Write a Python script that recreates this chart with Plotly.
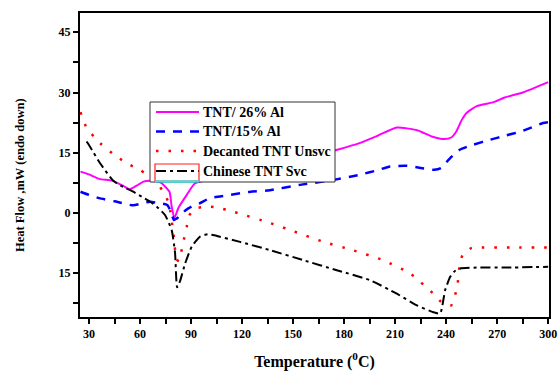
import plotly.graph_objects as go

# ---- data ----
t_26 = [25, 30, 36, 44, 50, 54, 58, 62, 66, 72, 77.3, 78.6, 80.2, 82.5, 87.5, 92.4, 110, 130, 150, 165, 176,
        189, 200, 211, 223, 232, 239, 243, 246, 249, 252, 258, 268, 274, 285, 300]
hf_26 = [10.3, 9.6, 8.5, 8.0, 6.8, 5.9, 6.8, 7.8, 8.0, 7.6, 5.3, 1.6, -1.3, 1.2, 4.5, 7.4, 9.0, 11.0, 13.0, 14.5, 15.75,
         17.4, 19.3, 21.3, 20.6, 19.0, 18.4, 18.8, 20.3, 23.0, 24.9, 26.6, 27.6, 28.7, 30.0, 32.6]

t_15 = [25, 30, 36, 45, 56, 62, 66, 72, 76, 78, 80, 83, 87, 92, 95, 101, 107, 113, 125, 135, 154, 174, 189, 200,
        207, 217, 225, 233, 237, 242, 248, 256, 266, 275, 284, 297, 300]
hf_15 = [5.3, 4.5, 3.7, 2.9, 1.9, 2.5, 2.8, 2.4, 2.0, 0.5, -1.75, -0.9, 0.75, 2.0, 2.4, 3.7, 4.1, 4.5, 5.3, 5.6, 7.0,
         8.25, 9.5, 10.7, 11.6, 11.75, 11.2, 10.75, 11.2, 13.5, 15.75, 17.0, 18.25, 19.3, 20.3, 22.4, 22.6]

t_dec = [25, 28.6, 36.5, 46, 54, 60, 64, 70, 74, 77, 79.6, 81.5, 83, 85, 87.5, 88.5, 92, 99, 105, 115, 136.5, 150,
         168, 185, 203, 219, 232.5, 238, 243, 246.5, 248.2, 250, 255, 260, 280, 300]
hf_dec = [25.1, 21.2, 17.4, 14.1, 12.0, 10.75, 9.5, 7.5, 5.0, 2.4, -5.1, -11.5, -12, -8, -3.4, -0.9, 1.0, 1.6, 1.4,
          0.3, -2.5, -4.5, -7.2, -9.25, -11.75, -15.1, -20.1, -22.5, -23.0, -18.4, -12.2, -10.25, -8.7, -8.6, -8.6, -8.6]

t_chi = [28.6, 30.6, 36.5, 44.3, 50, 56, 62, 66, 70, 74.7, 78.6, 80.6, 81.8, 83.5, 86.5, 90.4, 95.3, 100, 103,
         118.8, 136.5, 156, 175.7, 195.3, 211, 222.8, 232.5, 236.5, 239.4, 242.4, 245, 248.2, 258, 275, 300]
hf_chi = [17.8, 16.5, 12.4, 8.0, 6.5, 5.3, 3.8, 2.8, 1.5, -0.5, -4.25, -10, -18.5, -17, -12.6, -8.4, -5.9, -5.3,
          -5.5, -7.2, -9.25, -11.75, -14.25, -16.75, -20.1, -23, -24.7, -25, -19.25, -15.9, -14.5, -13.8, -13.6,
          -13.6, -13.4]

series_names = ["TNT/ 26% Al", "TNT/15% Al", "Decanted TNT Unsvc", "Chinese TNT Svc"]

x_ticks = [30, 60, 90, 120, 150, 180, 210, 240, 270, 300]
x_ticklabels = ["30", "60", "90", "120", "150", "180", "210", "240", "270", "300"]
y_ticks = [-15, 0, 15, 30, 45]
y_ticklabels = ["15", "0", "15", "30", "45"]

FONT = "Liberation Serif"
W, H = 559, 371
ML, MR, MT, MB = 80, 10, 13, 54
PW, PH = W - ML - MR, H - MT - MB


def px_x(px):
    return (px - ML) / PW


def px_y(py):
    return (H - MB - py) / PH


styles = [
    dict(color="#ff00ff", width=2, dash="solid"),
    dict(color="#0000ff", width=2.5, dash="9px,8px"),
    dict(color="#ff0000", width=2.5, dash="2.5px,10px"),
    dict(color="#000000", width=2, dash="10px,4px,3px,4px"),
]
xs = [t_26, t_15, t_dec, t_chi]
ys = [hf_26, hf_15, hf_dec, hf_chi]

fig = go.Figure()
for name, x, y, st in zip(series_names, xs, ys, styles):
    fig.add_trace(go.Scatter(x=x, y=y, mode="lines", name=name, showlegend=False,
                             line=dict(shape="spline", smoothing=0.5, **st)))

axis_common = dict(showline=True, linecolor="black", linewidth=2, mirror=True, showgrid=False, zeroline=False,
                   ticks="outside", ticklen=5, tickwidth=1.5, tickcolor="black", automargin=False,
                   tickfont=dict(family=FONT, size=12, color="black", weight="bold"))

fig.update_xaxes(range=[24.7, 300.5], tickvals=x_ticks, ticktext=x_ticklabels,
                 minor=dict(ticks="outside", ticklen=5, tickwidth=1.5, tickcolor="black", dtick=15, tick0=15),
                 title=dict(text="<b>Temperature (<sup>0</sup>C)</b>", font=dict(family=FONT, size=16, color="black"),
                            standoff=18),
                 **axis_common)
fig.update_yaxes(range=[-25.9, 49.8], tickvals=y_ticks, ticktext=y_ticklabels,
                 minor=dict(ticks="outside", ticklen=5, tickwidth=1.5, tickcolor="black", dtick=15, tick0=7.5),
                 **axis_common)

# y axis title placed as annotation to match position
annotations = [dict(text="<b>Heat Flow ,mW (endo down)</b>", xref="paper", yref="paper",
                    x=px_x(20), y=px_y(175), textangle=-90, showarrow=False,
                    font=dict(family=FONT, size=12.5, color="black"), xanchor="center", yanchor="middle")]

# ---- manual legend box ----
shapes = [dict(type="rect", xref="paper", yref="paper", layer="above",
               x0=px_x(150), x1=px_x(335), y0=px_y(182), y1=px_y(102),
               fillcolor="white", line=dict(color="#333333", width=1))]
row_y = [112, 131.5, 151, 171]
for name, st, ry in zip(series_names, styles, row_y):
    shapes.append(dict(type="line", xref="paper", yref="paper", layer="above",
                       x0=px_x(156), x1=px_x(199), y0=px_y(ry), y1=px_y(ry),
                       line=dict(color=st["color"], width=st["width"], dash=st["dash"])))
    annotations.append(dict(text="<b>" + name + "</b>", xref="paper", yref="paper",
                            x=px_x(201), y=px_y(ry), xanchor="left", yanchor="middle", showarrow=False,
                            font=dict(family=FONT, size=14, color="black")))
# red box around last legend sample and cyan underline
shapes.append(dict(type="rect", xref="paper", yref="paper", layer="above",
                   x0=px_x(155), x1=px_x(199), y0=px_y(181), y1=px_y(164),
                   line=dict(color="#ff2020", width=1.2)))
shapes.append(dict(type="line", xref="paper", yref="paper", layer="above",
                   x0=px_x(155), x1=px_x(199), y0=px_y(181.5), y1=px_y(181.5),
                   line=dict(color="#00ffff", width=2)))

fig.update_layout(
    width=W, height=H,
    margin=dict(l=ML, r=MR, t=MT, b=MB),
    plot_bgcolor="white", paper_bgcolor="white",
    showlegend=False,
    shapes=shapes,
    annotations=annotations,
)

fig.write_html("out.html", post_script="document.body.style.margin='0';",
               config={"displayModeBar": False})
